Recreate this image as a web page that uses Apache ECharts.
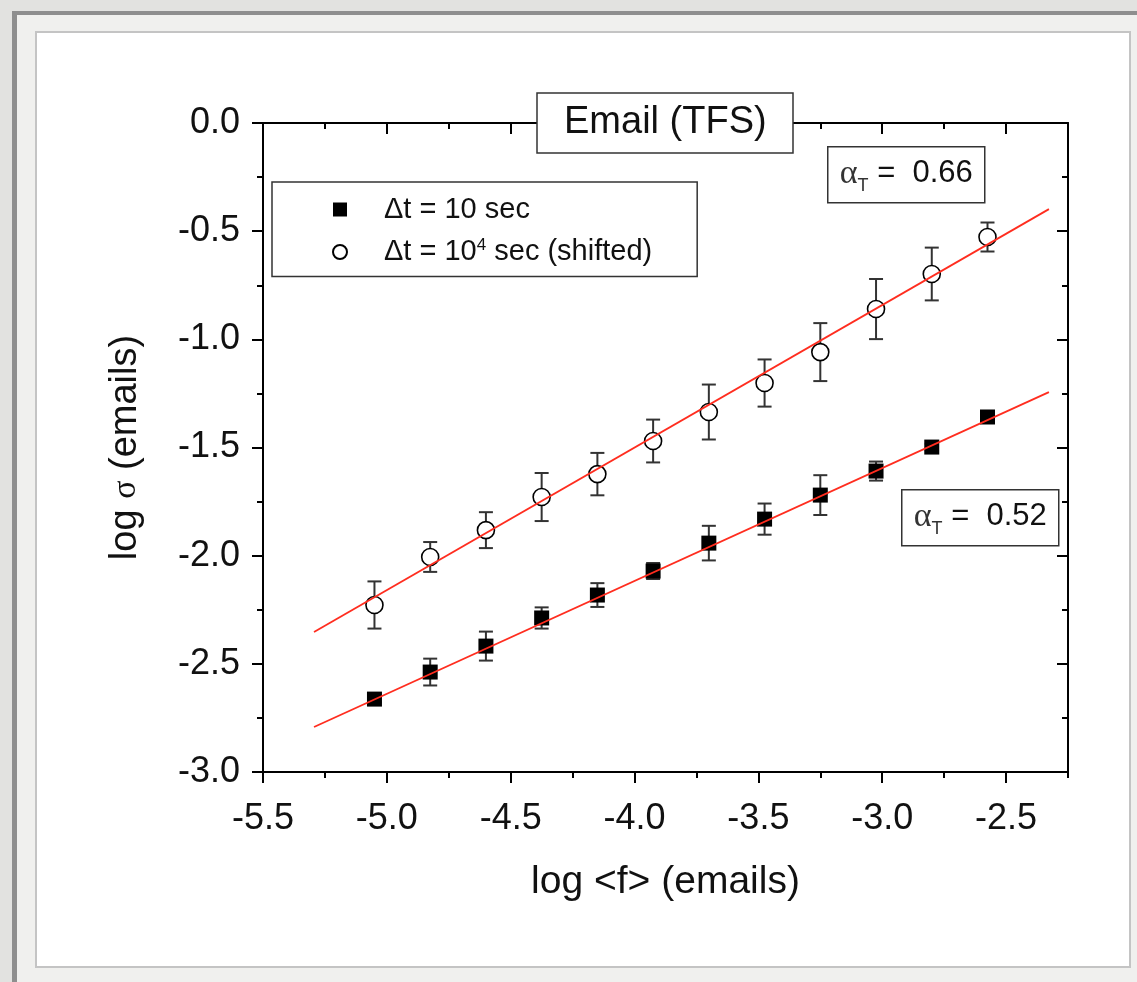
<!DOCTYPE html>
<html>
<head>
<meta charset="utf-8">
<script src="https://cdn.jsdelivr.net/npm/echarts@6/dist/echarts.min.js"></script>
<style>
html,body{margin:0;padding:0;background:#e2e2e0;}
#chart{width:1137px;height:982px;}
</style>
</head>
<body>
<div id="chart"></div>
<script>
// values
var logF = [-5.05, -4.825, -4.6, -4.375, -4.15, -3.925, -3.7, -3.475, -3.25, -3.025, -2.8, -2.575];
var sigma10 = [-2.663, -2.538, -2.418, -2.288, -2.182, -2.071, -1.942, -1.831, -1.720, -1.609, -1.498, -1.359];
var err10 = [0.015, 0.062, 0.067, 0.049, 0.055, 0.037, 0.080, 0.072, 0.092, 0.044, 0.015, 0.015];
var sigma1e4 = [-2.228, -2.006, -1.882, -1.729, -1.623, -1.470, -1.336, -1.202, -1.059, -0.860, -0.698, -0.527];
var err1e4 = [0.109, 0.069, 0.083, 0.111, 0.098, 0.099, 0.127, 0.109, 0.134, 0.139, 0.122, 0.067];
var fit10 = [[-5.294, -2.792], [-2.327, -1.244]];
var fit1e4 = [[-5.294, -2.353], [-2.327, -0.398]];
var xTicks = [-5.5, -5.0, -4.5, -4.0, -3.5, -3.0, -2.5];
var seriesNames = ['Δt = 10 sec', 'Δt = 10^4 sec (shifted)'];

var FONT = '"Liberation Sans", Arial, sans-serif';

function pairs(xs, ys, es) {
	var out = [];
	for (var i = 0; i < xs.length; i++) {
		out.push(es ? [xs[i], ys[i], es[i]] : [xs[i], ys[i]]);
	}
	return out;
}

function errorBar(params, api) {
	var x = api.value(0), y = api.value(1), e = api.value(2);
	var top = api.coord([x, y + e]), bot = api.coord([x, y - e]);
	var w = 7, st = {stroke: '#333', lineWidth: 2};
	return {type: 'group', children: [
		{type: 'line', shape: {x1: top[0], y1: top[1], x2: bot[0], y2: bot[1]}, style: st},
		{type: 'line', shape: {x1: top[0] - w, y1: top[1], x2: top[0] + w, y2: top[1]}, style: st},
		{type: 'line', shape: {x1: bot[0] - w, y1: bot[1], x2: bot[0] + w, y2: bot[1]}, style: st}
	]};
}

var lineSt = {color: '#000', width: 2};
function xAx(pos, major, labels) {
	var a = {
		type: 'value', position: pos, min: -5.5, max: -2.25,
		interval: major ? 0.5 : 0.25,
		axisLine: {show: major, onZero: false, lineStyle: lineSt},
		axisTick: {length: major ? 11 : 6, inside: pos === 'top', lineStyle: lineSt},
		axisLabel: {show: false},
		splitLine: {show: false}
	};
	if (major) {
		a.axisTick.customValues = xTicks;
	}
	if (labels) {
		a.axisLabel = {show: true, customValues: xTicks, formatter: function (v) { return v.toFixed(1); },
			fontSize: 36, color: '#111', fontFamily: FONT, margin: 29};
		a.name = 'log <f> (emails)';
		a.nameLocation = 'middle';
		a.nameGap = 91;
		a.nameTextStyle = {fontSize: 39, color: '#111', fontFamily: FONT};
	}
	return a;
}
function yAx(pos, labels) {
	var a = {
		type: 'value', position: pos, min: -3, max: 0, interval: 0.5,
		axisLine: {onZero: false, lineStyle: lineSt},
		axisTick: {length: 11, inside: pos === 'right', lineStyle: lineSt},
		minorTick: {show: true, splitNumber: 2, length: 6, lineStyle: lineSt},
		axisLabel: {show: false},
		splitLine: {show: false}
	};
	if (labels) {
		a.axisLabel = {show: true, formatter: function (v) { return v.toFixed(1); },
			fontSize: 36, color: '#111', fontFamily: FONT, margin: 23};
		a.name = '{a|log }{b|σ}{a| (emails)}';
		a.nameLocation = 'middle';
		a.nameGap = 118;
		a.nameTextStyle = {color: '#111', rich: {
			a: {fontSize: 38, fontFamily: FONT, color: '#111'},
			b: {fontSize: 34, fontFamily: '"Liberation Serif", serif', color: '#111'}
		}};
	}
	return a;
}

function alphaBox(x, y, val) {
	return {type: 'group', left: x, top: y, z: 100, children: [
		{type: 'rect', shape: {x: 0, y: 0, width: 157, height: 56},
			style: {fill: '#fff', stroke: '#333', lineWidth: 1.5}},
		{type: 'text', x: 12, y: 27, style: {
			text: '{a|α}{b|T}{c| =  ' + val + '}',
			verticalAlign: 'middle',
			rich: {
				a: {fontSize: 34, fontFamily: '"Liberation Serif", serif', fill: '#333', lineHeight: 42, verticalAlign: 'middle'},
				b: {fontSize: 18, fontFamily: FONT, fill: '#333', lineHeight: 18, verticalAlign: 'bottom'},
				c: {fontSize: 31, fontFamily: FONT, fill: '#111', lineHeight: 42, verticalAlign: 'middle'}
			}
		}}
	]};
}

var chart = echarts.init(document.getElementById('chart'));
chart.setOption({
	backgroundColor: '#e2e2e0',
	animation: false,
	title: {
		text: 'Email (TFS)', left: 537, top: 93, padding: [11, 27],
		backgroundColor: '#fff', borderColor: '#333', borderWidth: 1.5,
		textStyle: {fontSize: 38, fontWeight: 'normal', color: '#111', fontFamily: FONT},
		z: 20
	},
	legend: {
		orient: 'vertical', left: 272, top: 182,
		padding: [13, 45, 10, 60], itemGap: 13,
		itemWidth: 14, itemHeight: 14,
		backgroundColor: '#fff', borderColor: '#333', borderWidth: 1.5,
		data: seriesNames,
		formatter: function (name) {
			if (name === seriesNames[0]) return '{p|Δt = 10 sec}';
			return '{p|Δt = 10}{s|4}{t| sec (shifted)}';
		},
		textStyle: {fontSize: 29, color: '#111', fontFamily: FONT, rich: {
			p: {fontSize: 29, fontFamily: FONT, color: '#111', padding: [0, 0, 0, 32], lineHeight: 30},
			t: {fontSize: 29, fontFamily: FONT, color: '#111', lineHeight: 30},
			s: {fontSize: 17, fontFamily: FONT, color: '#111', lineHeight: 18, verticalAlign: 'top'}
		}},
		z: 20
	},
	grid: {left: 263, top: 123, width: 805, height: 649, containLabel: false},
	xAxis: [xAx('bottom', true, true), xAx('bottom', false, false), xAx('top', true, false), xAx('top', false, false)],
	yAxis: [yAx('left', true), yAx('right', false)],
	graphic: [
		{type: 'rect', z: -100, shape: {x: 12, y: 11, width: 1125, height: 971}, style: {fill: '#f0f0ee'}},
		{type: 'rect', z: -99, shape: {x: 12, y: 11, width: 5, height: 971}, style: {fill: '#8e8e8e'}},
		{type: 'rect', z: -99, shape: {x: 12, y: 11, width: 1125, height: 4}, style: {fill: '#8e8e8e'}},
		{type: 'rect', z: -98, shape: {x: 36, y: 32, width: 1094, height: 935}, style: {fill: '#fff', stroke: '#c4c4c4', lineWidth: 2}},
		alphaBox(827, 146, '0.66'),
		alphaBox(901, 489, '0.52')
	],
	series: [
		{type: 'custom', renderItem: errorBar, data: pairs(logF, sigma10, err10), z: 2, silent: true},
		{type: 'custom', renderItem: errorBar, data: pairs(logF, sigma1e4, err1e4), z: 2, silent: true},
		{name: seriesNames[0], type: 'scatter', symbol: 'rect', symbolSize: 15,
			itemStyle: {color: '#000', opacity: 1}, data: pairs(logF, sigma10), z: 3},
		{name: seriesNames[1], type: 'scatter', symbol: 'circle', symbolSize: 17,
			itemStyle: {color: '#fff', borderColor: '#000', borderWidth: 1.6, opacity: 1}, data: pairs(logF, sigma1e4), z: 3},
		{type: 'line', data: fit10, symbol: 'none', lineStyle: {color: '#ff2d1f', width: 1.8}, z: 4, silent: true},
		{type: 'line', data: fit1e4, symbol: 'none', lineStyle: {color: '#ff2d1f', width: 1.8}, z: 4, silent: true}
	]
});
</script>
</body>
</html>
